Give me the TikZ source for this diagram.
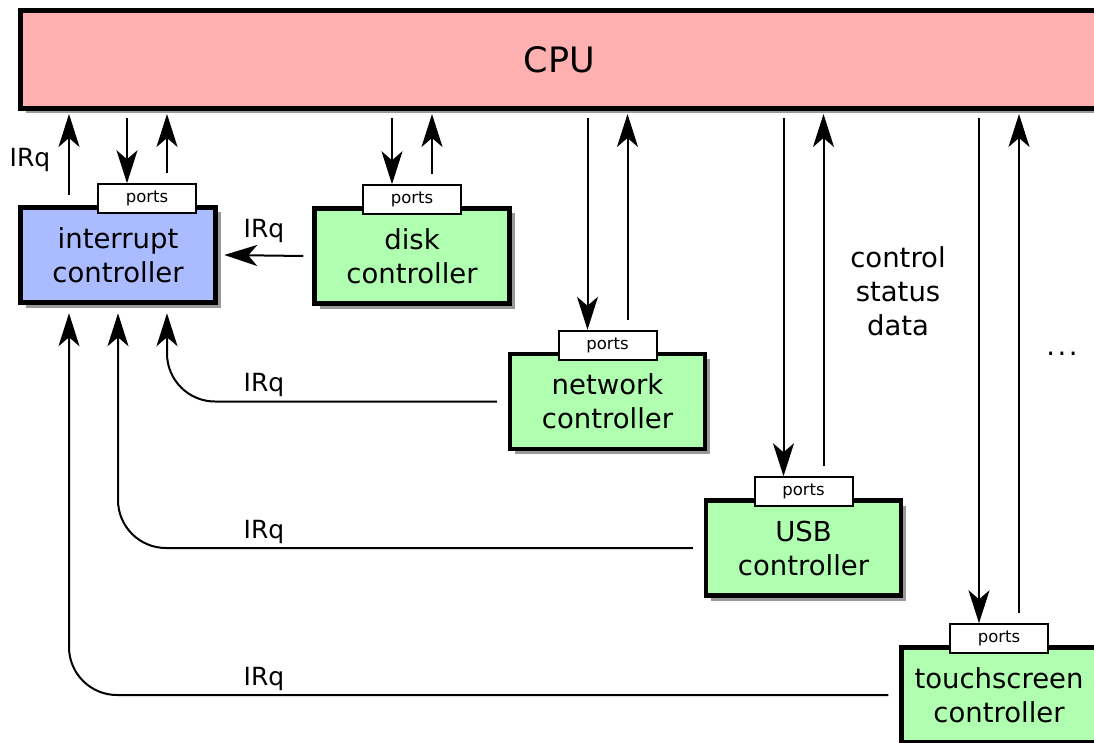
\documentclass[tikz,border=0pt]{standalone}
\usepackage{fontspec}
\setmainfont{DejaVu Sans}
\usetikzlibrary{arrows.meta,shadows}
\definecolor{cpufill}{RGB}{255,176,176}
\definecolor{intfill}{RGB}{170,187,255}
\definecolor{ctlfill}{RGB}{176,255,176}
\newcommand\myBodyFont{\fontsize{27.5pt}{34pt}\selectfont}
\newcommand\myCpuFont{\fontsize{35pt}{40pt}\selectfont}
\newcommand\myIrqFont{\fontsize{25pt}{30pt}\selectfont}
\newcommand\myPortsFont{\fontsize{16.5pt}{20pt}\selectfont}
\begin{document}
\begin{tikzpicture}[x=1pt,y=-1pt,
  box/.style={draw, line width=4.5pt, minimum width=195pt, minimum height=95pt,
    align=center, font=\myBodyFont,
    drop shadow={shadow xshift=5pt,shadow yshift=-5pt,fill=black!40,opacity=1}},
  ctl/.style={box, fill=ctlfill},
  portbox/.style={draw, fill=white, line width=2pt, minimum width=98pt,
    minimum height=29pt, inner sep=0pt, font=\myPortsFont},
  arr/.style={line width=2pt, -{Stealth[length=33pt,width=21pt,inset=9pt]}},
  lbl/.style={font=\myIrqFont, inner sep=0pt},
  txt/.style={font=\myBodyFont, align=center, inner sep=0pt}]
\useasboundingbox (0,0) rectangle (1094,743);
\clip (0,0) rectangle (1094,743);

% CPU
\node[box, fill=cpufill, minimum width=1078pt, minimum height=98pt, font=\myCpuFont] (cpu) at (559.5,59.5) {CPU};
\coordinate (cpudn) at (0,118);
\coordinate (cpuup) at (0,114);

% controllers
\node[box, fill=intfill] (int) at (118,255) {interrupt\\controller};
\node[ctl] (disk) at (412,256) {disk\\controller};
\node[ctl] (net) at (607.5,401.5) {network\\controller};
\node[ctl] (usb) at (803.5,548) {USB\\controller};
\node[ctl] (touch) at (999,695) {touchscreen\\controller};

% ports tabs
\node[portbox] (iports) at ([xshift=29pt,yshift=6.5pt]int.north) {ports};
\node[portbox] (dports) at ([yshift=6.5pt]disk.north) {ports};
\node[portbox] (nports) at ([yshift=6.5pt]net.north) {ports};
\node[portbox] (uports) at ([yshift=6.5pt]usb.north) {ports};
\node[portbox] (tports) at ([yshift=6.5pt]touch.north) {ports};

% CPU <-> ports arrows
\foreach \p in {iports,dports,nports,uports,tports}{
  \draw[arr] ([xshift=-20pt]\p.north |- cpudn) -- ([xshift=-20pt]\p.north);
  \draw[arr] ([xshift=20pt,yshift=10pt]\p.north) -- ([xshift=20pt]\p.north |- cpuup);
}

% interrupt controller -> CPU
\draw[arr] ([xshift=-49pt,yshift=10pt]int.north) -- ([xshift=-49pt]int.north |- cpuup);
\node[lbl] (irq0) at (30,160) {IRq};

% disk -> interrupt
\draw[arr] ([xshift=-9pt]disk.west) -- ([xshift=6.5pt]int.east);
\node[lbl] (irq1) at (264,231) {IRq};

% other IRq lines
\draw[arr, rounded corners=48pt] ([xshift=-11pt]net.west) -| ([xshift=49pt,yshift=-8.5pt]int.south);
\node[lbl] (irq2) at (264,385) {IRq};
\draw[arr, rounded corners=48pt] ([xshift=-11pt]usb.west) -| ([yshift=-8.5pt]int.south);
\node[lbl] (irq3) at (264,532) {IRq};
\draw[arr, rounded corners=48pt] ([xshift=-11pt]touch.west) -| ([xshift=-49pt,yshift=-8.5pt]int.south);
\node[lbl] (irq4) at (264,679) {IRq};

% texts
\node[txt] (csd) at (898,291) {control\\status\\data};
\node[txt] (dots) at (1062,354) {.\kern2.5pt.\kern2.5pt.};
\end{tikzpicture}
\end{document}
